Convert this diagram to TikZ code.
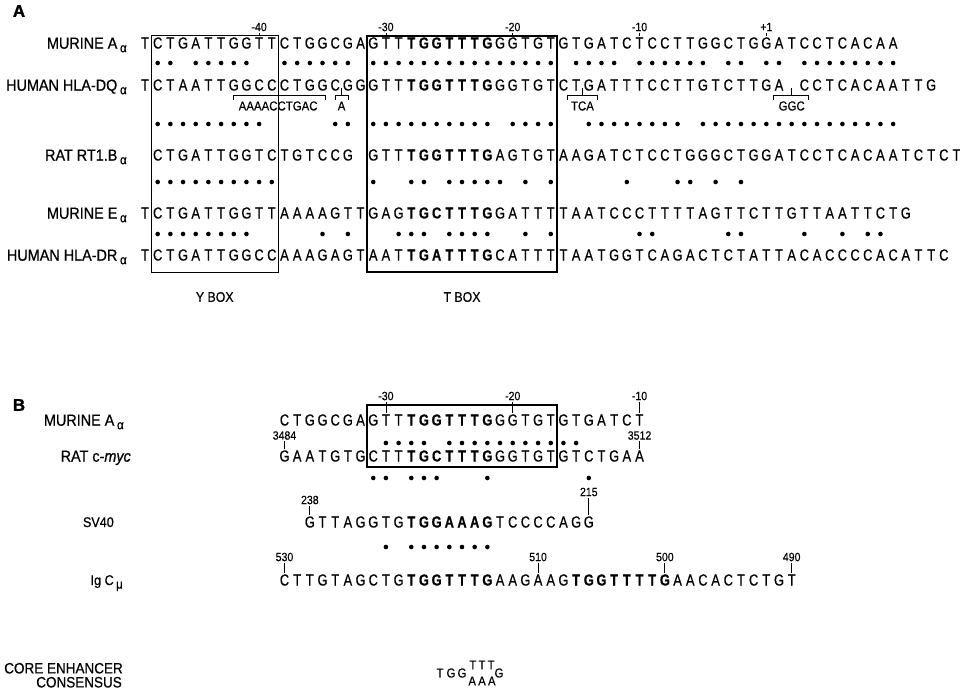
\documentclass[tikz,border=0pt]{standalone}
\usepackage{fontspec}
\setmainfont{Liberation Sans}
\newfontfamily\seqfont[FakeStretch=0.8,FakeBold=0.6]{Liberation Sans}
\newfontfamily\labfont[FakeStretch=0.9,FakeBold=0.7]{Liberation Sans}
\newfontfamily\numfont[FakeStretch=0.88,FakeBold=0.3]{Liberation Sans}
\newfontfamily\heavyfont[FakeBold=1.5]{Liberation Sans}

\ExplSyntaxOn
\int_new:N \l_rs_col_int
\tl_new:N \l_rs_y_tl
\tl_new:N \l_rs_row_tl
\cs_new:Npn \rscol { \int_use:N \l_rs_col_int }
\cs_new:Npn \rsy { \tl_use:N \l_rs_y_tl }
\cs_new:Npn \rsrow { \tl_use:N \l_rs_row_tl }
\NewDocumentCommand \seqrow { m m m m }
 {
  \tl_set:Nn \l_rs_row_tl {#1}
  \int_set:Nn \l_rs_col_int {#2}
  \tl_set:Nn \l_rs_y_tl {#3}
  \str_map_inline:nn {#4}
   {
    \str_case:nnF {##1}
     {
      {_} { }
      {a} { \rsput{seqbold}{A} }
      {c} { \rsput{seqbold}{C} }
      {g} { \rsput{seqbold}{G} }
      {t} { \rsput{seqbold}{T} }
     }
     { \rsput{seqletter}{##1} }
    \int_incr:N \l_rs_col_int
   }
 }
\NewDocumentCommand \dotrow { m m }
 {
  \int_set:Nn \l_rs_col_int {0}
  \tl_set:Nn \l_rs_y_tl {#1}
  \str_map_inline:nn {#2}
   {
    \str_if_eq:nnT {##1} {*} { \rsdot }
    \int_incr:N \l_rs_col_int
   }
 }
\ExplSyntaxOff
\newcommand\rsput[2]{\node[#1] (\rsrow c\rscol) at ({145+12.68*\rscol},\rsy) {#2};}
\newcommand\rsdot{\fill[alndot] ({145+12.68*\rscol},\rsy) circle[radius=2.3];}
\newcommand\cx[1]{145+12.68*#1}
\newcommand\subgr[1]{\,\raisebox{-3.5pt}{\fontsize{13}{13}\selectfont #1}}
\newcommand\insb[6]{%
  \draw[brk] (#1,#4+5) -- (#1,#4) -- (#2,#4) -- (#2,#4+5);
  \draw[brk] (#3,#4) -- (#3,#4-7);
  \node[brklab] (#6) at (#3,#4+11) {#5};}

\tikzset{
 seqletter/.style={inner sep=0pt, font=\seqfont\fontsize{16}{16}\selectfont},
 seqbold/.style={inner sep=0pt, font=\seqfont\bfseries\fontsize{16}{16}\selectfont},
 rowlab/.style={inner sep=0pt, anchor=base east, font=\labfont\fontsize{16}{16}\selectfont},
 rowlabm/.style={inner sep=0pt, anchor=base east, font=\labfont\fontsize{15}{15}\selectfont},
 rowlabb/.style={inner sep=0pt, anchor=base east, font=\labfont\fontsize{14}{14}\selectfont},
 numlab/.style={inner sep=0pt, font=\numfont\fontsize{12}{12}\selectfont},
 ticker/.style={line width=0.8pt},
 yboxst/.style={draw, line width=1pt},
 tboxst/.style={draw, line width=1.5pt},
 alndot/.style={black},
 brk/.style={line width=0.9pt},
 brklab/.style={inner sep=0pt, font=\numfont\fontsize{13}{13}\selectfont},
 boxlab/.style={inner sep=0pt, font=\numfont\fontsize{14}{14}\selectfont},
 panel/.style={inner sep=0pt, font=\heavyfont\bfseries\fontsize{17}{17}\selectfont},
}

% panel A vertical positions
\def\ya{43}\def\yda{63}\def\yb{85}\def\ybr{95}\def\ydb{124}
\def\yc{155}\def\ydc{182}\def\yd{213}\def\ydd{234}\def\ye{255}
% panel B vertical positions
\def\yba{420}\def\ybda{443}\def\ybb{456}\def\ybdb{478}\def\ybc{522}\def\ybdc{547}\def\ybd{580}

\begin{document}
\begin{tikzpicture}[x=1pt,y=-1pt]
\fill[white] (0,0) rectangle (960,695);
\useasboundingbox (0,0) rectangle (960,695);

% ---------------- panel A ----------------
\node[panel] (pA) at (19,11) {A};

\node[rowlab] (lA1) at (127,\ya+5.7) {MURINE A\subgr{α}};
\node[rowlab] (lA2) at (127,\yb+5.7) {HUMAN HLA-DQ\subgr{α}};
\node[rowlab] (lA3) at (127,\yc+5.7) {RAT RT1.B\subgr{α}};
\node[rowlab] (lA4) at (127,\yd+5.7) {MURINE E\subgr{α}};
\node[rowlab] (lA5) at (127,\ye+5.7) {HUMAN HLA-DR\subgr{α}};

\draw[yboxst] ({\cx{0.5}},36) rectangle ({\cx{10.5}},272);
\draw[tboxst] ({\cx{17.5}},36) rectangle ({\cx{32.5}},272);
\node[boxlab] (ybox) at ({\cx{5.5}},297) {Y BOX};
\node[boxlab] (tbox) at ({\cx{25}},297) {T BOX};

\seqrow{a1}{0}{\ya}{TCTGATTGGTTCTGGCGAGTTtggtttgGGTGTGTGATCTCCTTGGCTGGATCCTCACAA}
\seqrow{a2}{0}{\yb}{TCTAATTGGCCCTGGCGGGTTtggtttgGGTGTCTGATTTCCTTGTCTTGA_CCTCACAATTG}
\seqrow{a3}{1}{\yc}{CTGATTGGTCTGTCCG_GTTtggtttgAGTGTAAGATCTCCTGGGCTGGATCCTCACAATCTCT}
\seqrow{a4}{0}{\yd}{TCTGATTGGTTAAAAGTTGAGtgctttgGATTTTAATCCCTTTTAGTTCTTGTTAATTCTG}
\seqrow{a5}{0}{\ye}{TCTGATTGGCCAAAGAGTAATtgatttgCATTTTAATGGTCAGACTCTATTACACCCCACATTC}

\dotrow{\yda}{-**-*****--******-***************-****-******-**-**-********}
\dotrow{\ydb}{-*********-----**-**********-****--********-****************}
\dotrow{\ydc}{-**********-------*--**-*****-*-*-----*---**-*-*}
\dotrow{\ydd}{-********-----*-*---***-****--*-*------**-----**----*--*-**}

% position ticks
\node[numlab] (tA40) at ({\cx{9}},27) {-40};
\node[numlab] (tA30) at ({\cx{19}},27) {-30};
\node[numlab] (tA20) at ({\cx{29}},27) {-20};
\node[numlab] (tA10) at ({\cx{39}},27) {-10};
\node[numlab] (tA1) at ({\cx{49}},27) {+1};
\draw[ticker] ([yshift=-1.5pt]tA40.south) -- ([yshift=1.5pt]a1c9.north);
\draw[ticker] ([yshift=-1.5pt]tA30.south) -- ([yshift=1.5pt]a1c19.north);
\draw[ticker] ([yshift=-1.5pt]tA20.south) -- ([yshift=1.5pt]a1c29.north);
\draw[ticker] ([yshift=-1.5pt]tA10.south) -- ([yshift=1.5pt]a1c39.north);
\draw[ticker] ([yshift=-1.5pt]tA1.south) -- ([yshift=1.5pt]a1c49.north);

% insertion brackets under HLA-DQ
\insb{233}{325}{{\cx{10.5}}}{\ybr}{AAAACCTGAC}{ins1}
\insb{335}{348}{{\cx{15.5}}}{\ybr}{A}{ins2}
\insb{567}{597}{{\cx{34.5}}}{\ybr}{TCA}{ins3}
\insb{773}{808}{{\cx{51}}}{\ybr}{GGC}{ins4}

% ---------------- panel B ----------------
\node[panel] (pB) at (19,405) {B};

\node[rowlab] (lB1) at (124,\yba+5.7) {MURINE A\subgr{α}};
\node[rowlab] (lB2) at (131,\ybb+5.7) {RAT c-\textit{myc}};
\node[rowlabb] (lB3) at (114,\ybc+5) {SV40};
\node[rowlabb] (lB4) at (123,\ybd+5) {Ig C\subgr{μ}};
\node[rowlabm] (lB5) at (123,668+5.4) {CORE ENHANCER};
\node[rowlabm] (lB6) at (122,682+5.4) {CONSENSUS};

\draw[tboxst] ({\cx{17.5}},405) rectangle ({\cx{32.5}},467);

\seqrow{b1}{11}{\yba}{CTGGCGAGTTtggtttgGGTGTGTGATCT}
\seqrow{b2}{11}{\ybb}{GAATGTGCTTtgctttgGGTGTGTCTGAA}
\seqrow{b3}{13}{\ybc}{GTTAGGTGtggaaagTCCCCAGG}
\seqrow{b4}{11}{\ybd}{CTTGTAGCTGtggtttgAAGAAGtggttttgAACACTCTGT}

\dotrow{\ybda}{-------------------****-***********}
\dotrow{\ybdb}{------------------**-***---*-------*}
\dotrow{\ybdc}{-------------------*-*******}

\node[numlab] (tB30) at ({\cx{19}},396) {-30};
\node[numlab] (tB20) at ({\cx{29}},396) {-20};
\node[numlab] (tB10) at ({\cx{39}},396) {-10};
\draw[ticker] ([yshift=-1.5pt]tB30.south) -- ([yshift=1.5pt]b1c19.north);
\draw[ticker] ([yshift=-1.5pt]tB20.south) -- ([yshift=1.5pt]b1c29.north);
\draw[ticker] ([yshift=-1.5pt]tB10.south) -- ([yshift=1.5pt]b1c39.north);

\node[numlab] (n3484) at ({\cx{11}},435.5) {3484};
\node[numlab] (n3512) at ({\cx{39}},435.5) {3512};
\draw[ticker] ([yshift=-1.5pt]n3484.south) -- ([yshift=1.5pt]b2c11.north);
\draw[ticker] ([yshift=-1.5pt]n3512.south) -- ([yshift=1.5pt]b2c39.north);

\node[numlab] (n238) at ({\cx{13}},500) {238};
\node[numlab] (n215) at ({\cx{35}},492) {215};
\draw[ticker] ([yshift=-1.5pt]n238.south) -- ([yshift=1.5pt]b3c13.north);
\draw[ticker] ([yshift=-1.5pt]n215.south) -- ([yshift=1.5pt]b3c35.north);

\node[numlab] (n530) at ({\cx{11}},557) {530};
\node[numlab] (n510) at ({\cx{31}},557) {510};
\node[numlab] (n500) at ({\cx{41}},557) {500};
\node[numlab] (n490) at ({\cx{51}},557) {490};
\draw[ticker] ([yshift=-1.5pt]n530.south) -- ([yshift=1.5pt]b4c11.north);
\draw[ticker] ([yshift=-1.5pt]n510.south) -- ([yshift=1.5pt]b4c31.north);
\draw[ticker] ([yshift=-1.5pt]n500.south) -- ([yshift=1.5pt]b4c41.north);
\draw[ticker] ([yshift=-1.5pt]n490.south) -- ([yshift=1.5pt]b4c51.north);

% consensus
\node[brklab] (k1) at (440,673) {T};
\node[brklab] (k2) at (451,673) {G};
\node[brklab] (k3) at (462,673) {G};
\node[brklab] (k4) at (482,665) {T\,T\,T};
\node[brklab] (k5) at (482,681) {A\,A\,A};
\node[brklab] (k6) at (499,673) {G};
\end{tikzpicture}
\end{document}
